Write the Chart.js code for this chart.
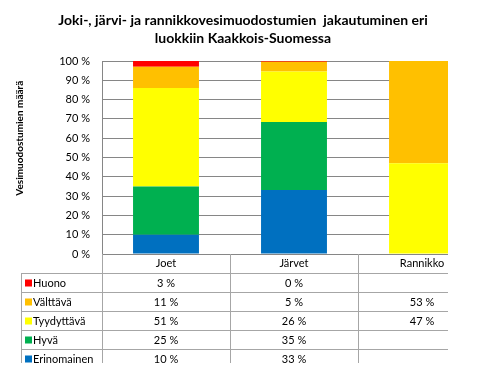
<!DOCTYPE html>
<html>
<head>
<meta charset="utf-8">
<script src="https://cdn.jsdelivr.net/npm/chart.js@4/dist/chart.umd.min.js"></script>
<style>
  html, body { margin: 0; padding: 0; background: #fff; }
  #wrap { width: 448px; height: 363px; overflow: hidden; }
</style>
</head>
<body>
<div id="wrap"><canvas id="chart" width="500" height="376"></canvas></div>
<script>
const categories = ["Joet", "Järvet", "Rannikko"];
// values in %, as in the data table (Järvet/Huono is a thin sliver, shown as 0 %)
const huono = [3, 0.4, null];
const valttava = [11, 5, 53];
const tyydyttava = [51, 26, 47];
const hyva = [25, 35, null];
const erinomainen = [10, 33, null];
const yTicks = [0, 10, 20, 30, 40, 50, 60, 70, 80, 90, 100];

const series = [
  { label: "Erinomainen", values: erinomainen, color: "#0070C0" },
  { label: "Hyvä", values: hyva, color: "#00B050" },
  { label: "Tyydyttävä", values: tyydyttava, color: "#FFFF00" },
  { label: "Välttävä", values: valttava, color: "#FFC000" },
  { label: "Huono", values: huono, color: "#FF0000" },
];

const totals = categories.map((c, i) =>
  series.reduce((s, d) => s + (d.values[i] || 0), 0));

const FONT = "Lato, 'Open Sans', sans-serif";
const HEADER_H = 19;
const ROW_H = 19;
const LINE = "#a6a6a6";

// data table under the plot, drawn against the x scale
const tablePlugin = {
  id: "dataTable",
  afterDraw(chart) {
    const { ctx, chartArea, scales } = chart;
    const x = scales.x;
    const catW = (chartArea.right - chartArea.left) / categories.length;
    const top = chartArea.bottom + HEADER_H;
    const rows = series.slice().reverse();
    const bottom = top + rows.length * ROW_H;
    const legendLeft = 21;

    ctx.save();
    ctx.strokeStyle = LINE;
    ctx.lineWidth = 1;
    ctx.beginPath();
    for (let r = 0; r <= rows.length; r++) {
      const y = Math.round(top + r * ROW_H) + 0.5;
      ctx.moveTo(legendLeft, y);
      ctx.lineTo(chartArea.right, y);
    }
    ctx.moveTo(legendLeft + 0.5, top);
    ctx.lineTo(legendLeft + 0.5, bottom);
    for (let k = 0; k <= categories.length; k++) {
      const xx = Math.round(chartArea.left + k * catW) + 0.5;
      ctx.moveTo(xx, chartArea.bottom);
      ctx.lineTo(xx, bottom);
    }
    ctx.stroke();

    ctx.font = "11px " + FONT;
    ctx.textBaseline = "middle";
    rows.forEach((d, r) => {
      const cy = top + r * ROW_H + ROW_H / 2 + 0.5;
      ctx.fillStyle = d.color;
      ctx.fillRect(legendLeft + 4, cy - 3.5, 7, 7);
      ctx.fillStyle = "#000";
      ctx.textAlign = "left";
      ctx.fillText(d.label, legendLeft + 12, cy);
      ctx.textAlign = "center";
      d.values.forEach((v, i) => {
        if (v == null) return;
        ctx.fillText(Math.round(v) + " %", x.getPixelForValue(i), cy);
      });
    });

    // y axis title
    ctx.translate(20, chartArea.top + (chartArea.bottom - chartArea.top) * 0.4);
    ctx.rotate(-Math.PI / 2);
    ctx.font = "bold 10px " + FONT;
    ctx.textAlign = "center";
    ctx.fillStyle = "#000";
    ctx.fillText("Vesimuodostumien määrä", 0, 0);
    ctx.restore();
  },
};

new Chart(document.getElementById("chart"), {
  type: "bar",
  data: {
    labels: categories,
    datasets: series.map((d) => ({
      label: d.label,
      data: d.values.map((v, i) => (v == null ? null : (v / totals[i]) * 100)),
      backgroundColor: d.color,
      borderWidth: 0,
      categoryPercentage: 1,
      barPercentage: 0.515,
    })),
  },
  options: {
    responsive: false,
    animation: false,
    layout: { padding: { left: 0, right: 14, top: 0, bottom: 5 * ROW_H + 8 } },
    plugins: {
      legend: { display: false },
      tooltip: { enabled: false },
      title: {
        display: true,
        text: ["Joki-, järvi- ja rannikkovesimuodostumien  jakautuminen eri", "luokkiin Kaakkois-Suomessa"],
        color: "#000",
        font: { family: FONT, size: 14, weight: "bold", lineHeight: 1.3 },
        padding: { top: 11, bottom: 13.6 },
      },
    },
    scales: {
      x: {
        stacked: true,
        grid: { display: false, drawTicks: false },
        border: { display: true, color: "#868686" },
        ticks: { color: "#000", font: { family: FONT, size: 11 }, padding: 3 },
        afterFit(scale) { scale.height = HEADER_H; },
      },
      y: {
        stacked: true,
        min: 0,
        max: 100,
        afterBuildTicks(scale) { scale.ticks = yTicks.map((v) => ({ value: v })); },
        ticks: {
          color: "#000",
          font: { family: FONT, size: 11 },
          padding: 12,
          callback: (v) => v + " %",
        },
        grid: { color: "#868686", drawTicks: false },
        border: { display: true, color: "#868686" },
        afterFit(scale) { scale.width = 102; },
      },
    },
  },
  plugins: [tablePlugin],
});
</script>
</body>
</html>
